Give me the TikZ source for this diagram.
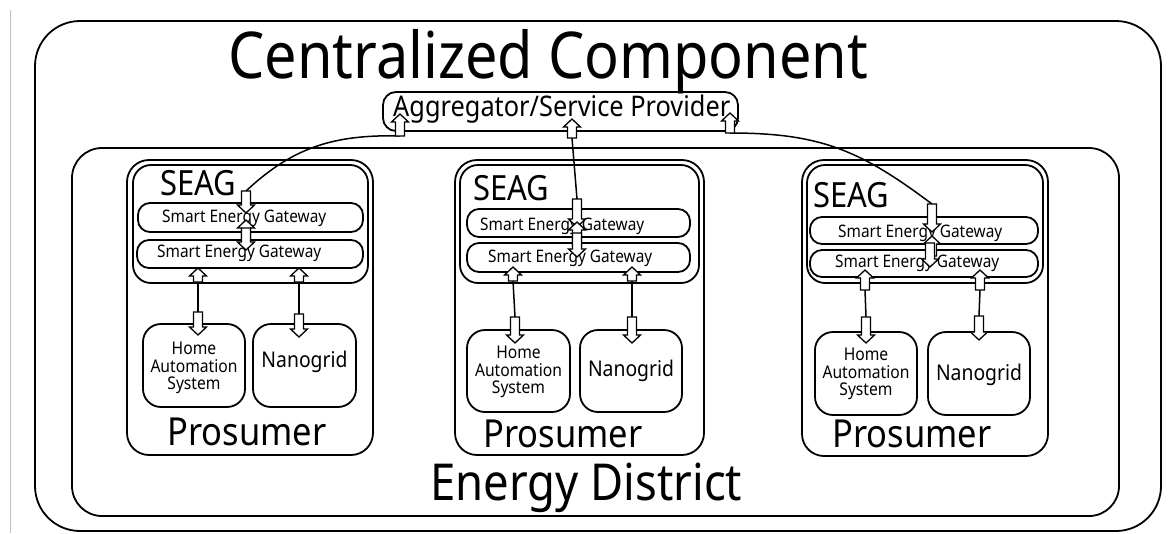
\documentclass[tikz,border=0pt]{standalone}
\usepackage{fontspec}
\setmainfont{Noto Sans}
\usepackage{graphicx}
% fit a text to a given width, with letters slightly taller than the font's own
\newcommand\FitText[2]{\scalebox{1}[1.12]{\resizebox{#1}{!}{#2}}}
\tikzset{
  frame/.style={draw, line width=1.8pt, rounded corners=#1, inner sep=0pt},
  txt/.style={inner sep=0pt, anchor=base west, text=black},
  link/.style={line width=1.5pt},
  pics/blk/.style={code={
    \draw[line width=1.3pt, fill=white]
      (0,0) -- (8.5,8) -- (4.5,8) -- (4.5,#1) -- (-4.5,#1) -- (-4.5,8) -- (-8.5,8) -- cycle;
  }},
}
\begin{document}
\begin{tikzpicture}[x=1pt, y=-1pt]
\useasboundingbox (0,0) rectangle (1170,533);
\draw[black!25, line width=0.8pt] (10.5,10) -- (10.5,533);

% containers
\node[frame=45pt, minimum width=1126pt, minimum height=510pt] (central) at (598,276) {};
\node[frame=30pt, minimum width=1047pt, minimum height=368pt] (district) at (595.5,332) {};
\node[frame=13pt, minimum width=355pt, minimum height=39pt] (agg) at (560.5,111.5) {};

% prosumer 1
\node[frame=22pt, minimum width=246pt, minimum height=295pt] (pros1) at (250,307.5) {};
\node[frame=18pt, minimum width=235pt, minimum height=118pt] (seag1) at (250.5,224) {};
\node[frame=12pt, minimum width=225pt, minimum height=29pt] (gw1a) at (250.5,217.5) {};
\node[frame=12pt, minimum width=226pt, minimum height=28pt] (gw1b) at (250,254) {};
\node[frame=18pt, minimum width=102pt, minimum height=83pt] (has1) at (194,365.5) {};
\node[frame=18pt, minimum width=103pt, minimum height=83pt] (ng1) at (304.5,365.5) {};

% prosumer 2
\node[frame=22pt, minimum width=249pt, minimum height=295pt] (pros2) at (579.5,307.5) {};
\node[frame=18pt, minimum width=239pt, minimum height=118pt] (seag2) at (579.5,224) {};
\node[frame=12pt, minimum width=223pt, minimum height=28pt] (gw2a) at (578.5,223) {};
\node[frame=12pt, minimum width=223pt, minimum height=29pt] (gw2b) at (578.5,257.5) {};
\node[frame=18pt, minimum width=103pt, minimum height=82pt] (has2) at (518.5,371) {};
\node[frame=18pt, minimum width=102pt, minimum height=82pt] (ng2) at (631,371) {};

% prosumer 3
\node[frame=22pt, minimum width=246pt, minimum height=296pt] (pros3) at (925,308) {};
\node[frame=18pt, minimum width=236pt, minimum height=118pt] (seag3) at (925,224) {};
\node[frame=12pt, minimum width=228pt, minimum height=27pt] (gw3a) at (924,230.5) {};
\node[frame=12pt, minimum width=228pt, minimum height=27pt] (gw3b) at (924,263.5) {};
\node[frame=18pt, minimum width=102pt, minimum height=83pt] (has3) at (866,373.5) {};
\node[frame=18pt, minimum width=102pt, minimum height=83pt] (ng3) at (979,373.5) {};

% titles and labels
\node[txt] (title) at (228,78) {\FitText{640pt}{Centralized Component}};
\node[txt] (aggtxt) at (393,116) {\FitText{337pt}{Aggregator/Service Provider}};
\node[txt] (districttxt) at (430,500) {\FitText{312pt}{Energy District}};

\foreach \n/\sx/\sy/\px/\py in {1/160/195/167/445, 2/473/200/483/447, 3/813/207/832/447} {
  \node[txt] (seagtxt\n) at (\sx,\sy) {\FitText{76pt}{SEAG}};
  \node[txt] (prostxt\n) at (\px,\py) {\FitText{159pt}{Prosumer}};
}
\foreach \g/\gx/\gy in {1a/162/222, 1b/157/257, 2a/480/230, 2b/488/262, 3a/838/237, 3b/835/267} {
  \node[txt] (gwtxt\g) at (\gx,\gy) {\FitText{164pt}{Smart Energy Gateway}};
}
\foreach \n/\hx/\hy/\nx/\ny in {1/194/368/304.5/367, 2/518.5/372/631/376, 3/866/374/979/380} {
  \node[inner sep=0pt] (hastxt\n) at (\hx,\hy) {\FitText{87pt}{\begin{tabular}{@{}c@{}}Home\\[-2pt]Automation\\[-2pt]System\end{tabular}}};
  \node[inner sep=0pt, anchor=base] (ngtxt\n) at (\nx,\ny) {\FitText{86pt}{Nanogrid}};
}

% connector end points
\coordinate (a1t) at (400,136);  \coordinate (s1t) at (246,191);
\coordinate (a2t) at (572,138);  \coordinate (s2t) at (577,199);
\coordinate (a3t) at (730,133);  \coordinate (s3t) at (932,204);
\coordinate (h1t) at (198,282);  \coordinate (h1b) at (198,312);
\coordinate (n1t) at (299,282);  \coordinate (n1b) at (299,314);
\coordinate (h2t) at (513,281);  \coordinate (h2b) at (515,317);
\coordinate (n2t) at (632,281);  \coordinate (n2b) at (632,317);
\coordinate (h3t) at (865,290);  \coordinate (h3b) at (866,317);
\coordinate (n3t) at (980,290);  \coordinate (n3b) at (979,316);

% connectors
\draw[link] (s1t) .. controls (290,150) and (330,134) .. (a1t);
\draw[link] (a2t) -- (s2t);
\draw[link] (a3t) .. controls (820,133) and (860,150) .. (s3t);
\draw[link] (h1t) -- (h1b);
\draw[link] (n1t) -- (n1b);
\draw[link] (h2t) -- (h2b);
\draw[link] (n2t) -- (n2b);
\draw[link] (h3t) -- (h3b);
\draw[link] (n3t) -- (n3b);

% block arrow heads
\pic at (400,114) {blk=22};
\pic at (572,119) {blk=19};
\pic at (730,113) {blk=20};

\pic[rotate=180] at (246,213) {blk=22};
\pic at (246,220) {blk=22};
\pic[rotate=180] at (246,250) {blk=22};
\pic at (198,268) {blk=14};
\pic[rotate=180] at (198,335) {blk=23};
\pic at (299,268) {blk=14};
\pic[rotate=180] at (299,337) {blk=23};

\pic[rotate=180] at (577,227) {blk=28};
\pic at (577,222) {blk=24};
\pic[rotate=180] at (577,257) {blk=24};
\pic at (513,267) {blk=14};
\pic[rotate=180] at (515,343) {blk=26};
\pic at (632,267) {blk=14};
\pic[rotate=180] at (632,343) {blk=26};

\pic[rotate=180] at (932,232) {blk=28};
\pic at (932,236) {blk=20};
\pic[rotate=180] at (930,267) {blk=24};
\pic at (865,270) {blk=20};
\pic[rotate=180] at (866,343) {blk=26};
\pic at (980,270) {blk=20};
\pic[rotate=180] at (979,340) {blk=24};
\end{tikzpicture}
\end{document}
